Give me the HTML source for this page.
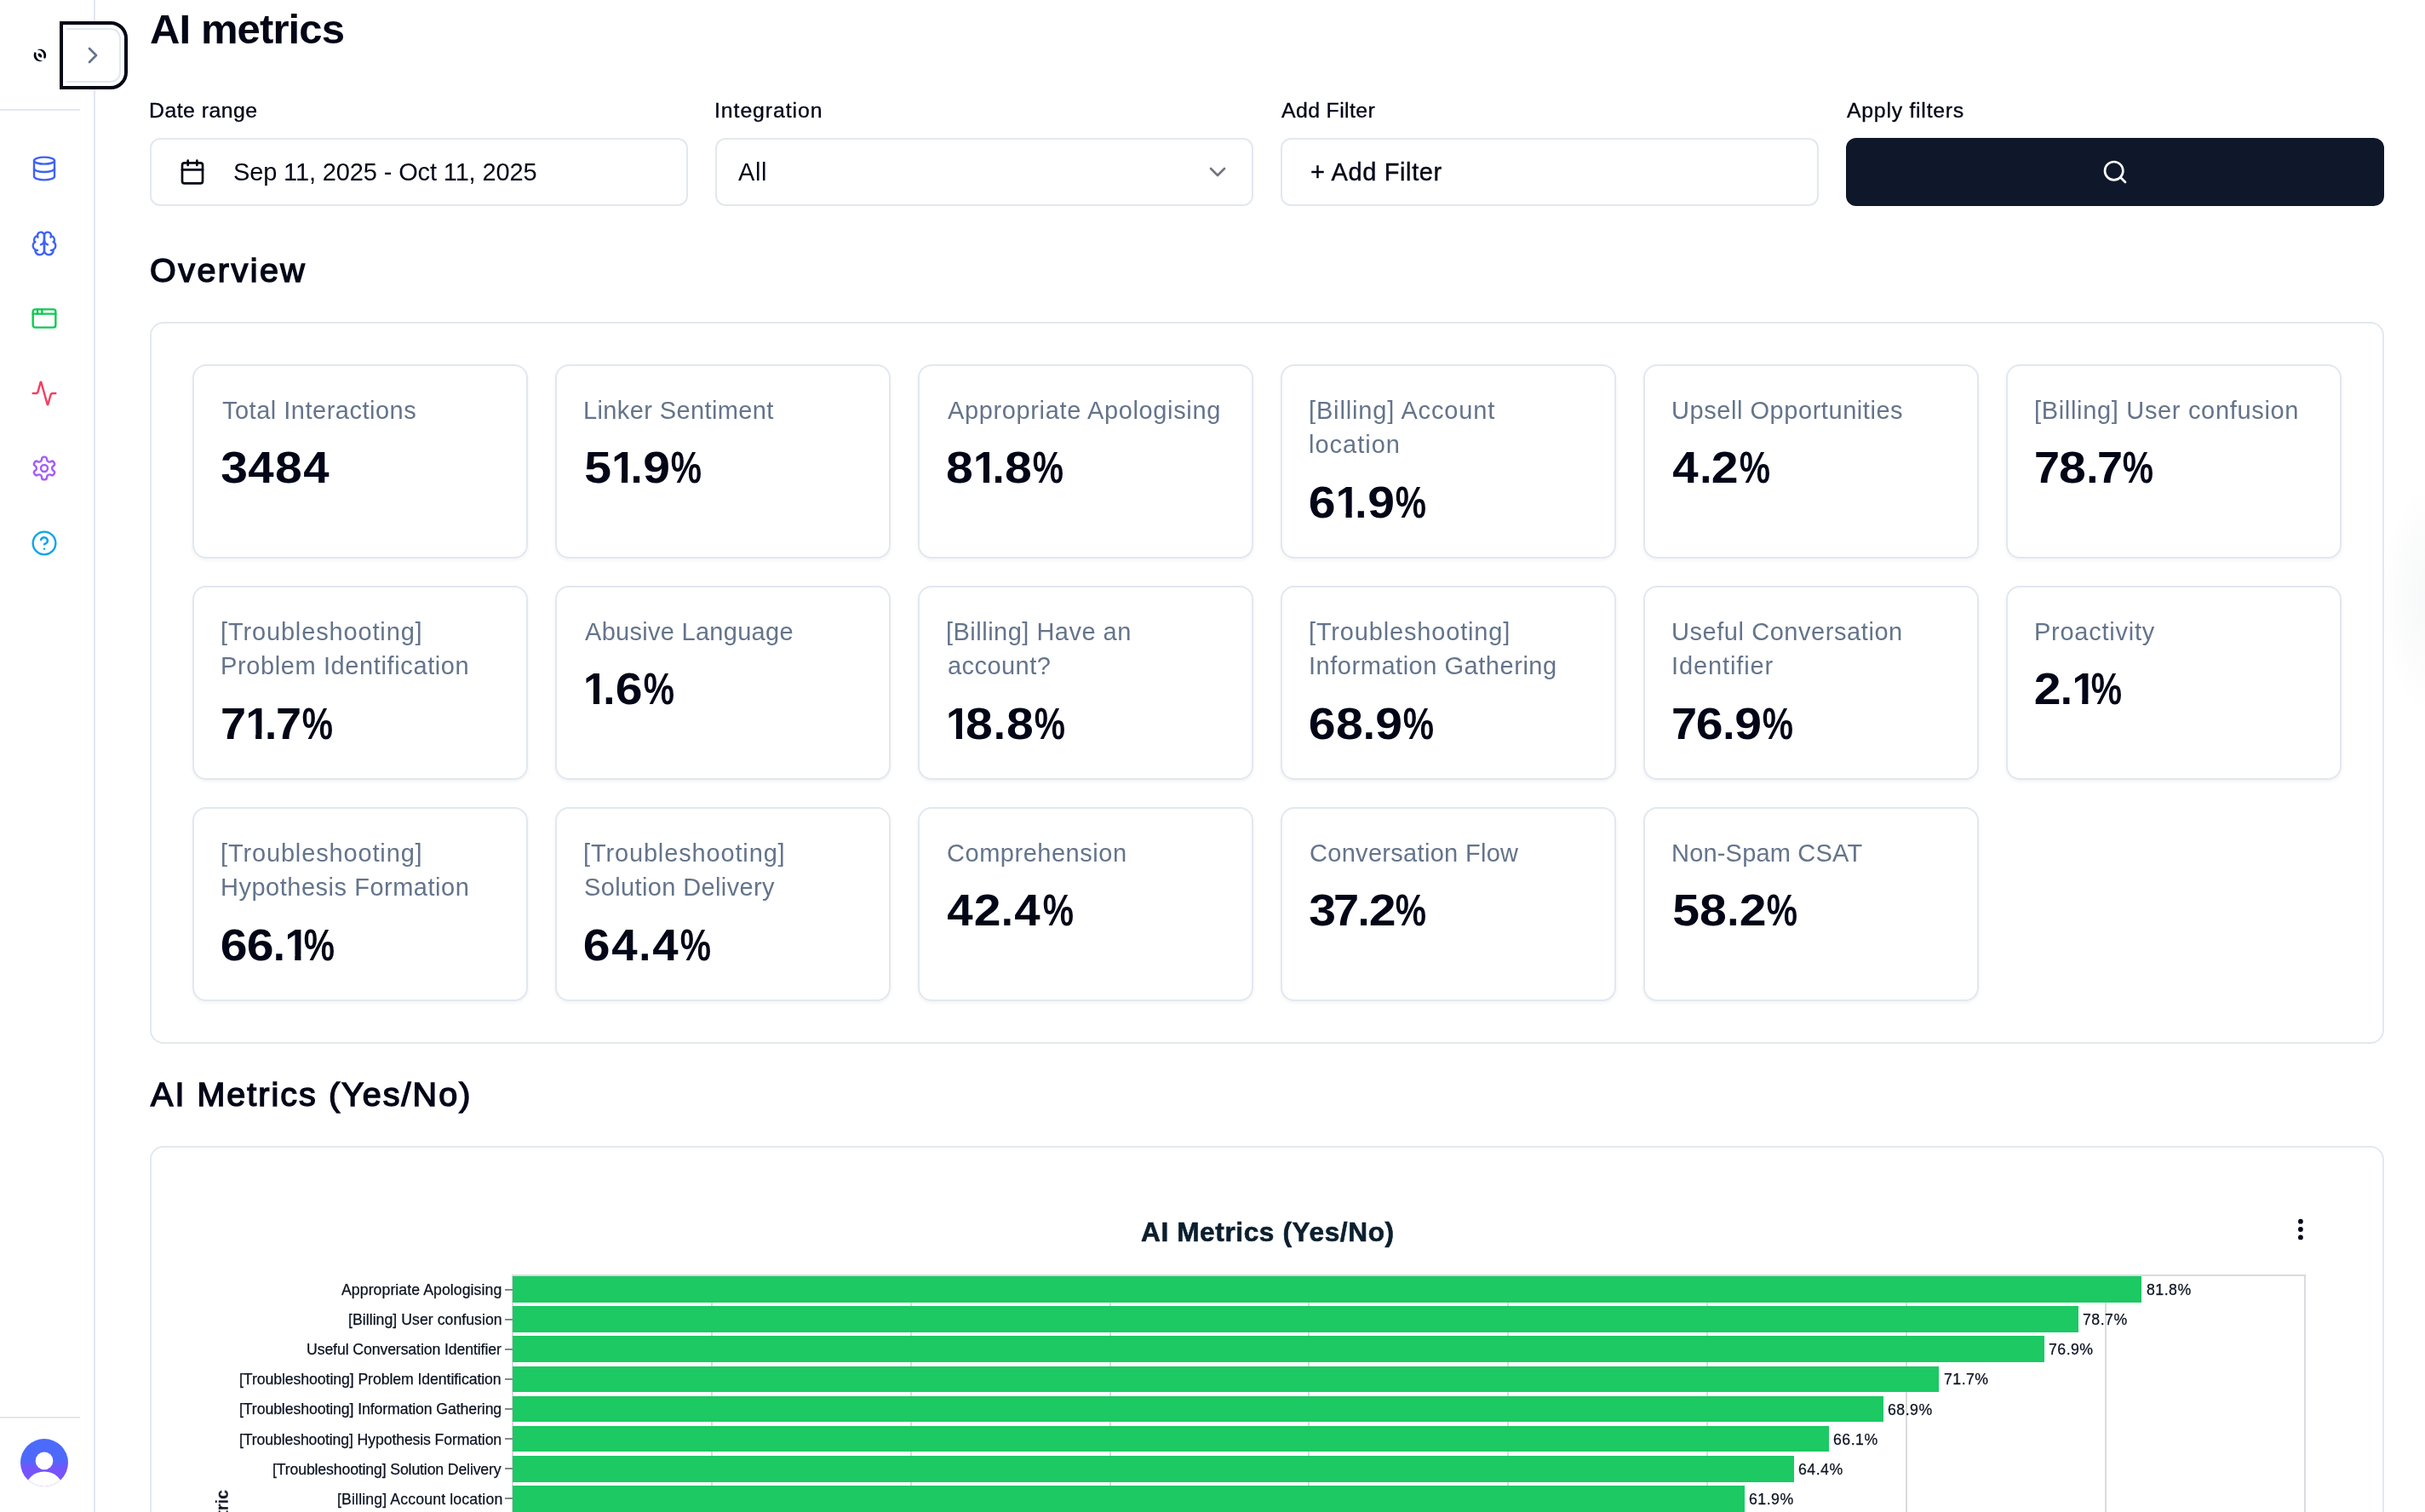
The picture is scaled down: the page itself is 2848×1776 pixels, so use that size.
<!DOCTYPE html>
<html lang="en"><head><meta charset="utf-8"><title>AI metrics</title>
<style>
*{box-sizing:border-box;margin:0;padding:0}
html,body{width:2848px;height:1776px;overflow:hidden;background:#fff}
body{position:relative;font-family:"Liberation Sans",sans-serif;color:#020617}
.t{position:absolute;white-space:nowrap;line-height:1;font-family:"Liberation Sans",sans-serif;will-change:transform}
.ic{position:absolute;display:block;overflow:visible}
.ab{position:absolute}
.ln{position:absolute;background:#e2e8f0}
.box{position:absolute;border:2px solid #e2e8f0;border-radius:12px;background:#fff}
.panel{position:absolute;border:2px solid #e2e8f0;border-radius:16px;background:#fff}
.card{position:absolute;width:394px;height:228px;border:2px solid #e2e8f0;border-radius:16px;background:#fff;box-shadow:0 2px 4px rgba(15,23,42,.05)}
.bar{position:absolute;left:602.3px;background:#1cc963}
.grid{position:absolute;width:2px;background:#d9dbde}
.tick{position:absolute;height:2px;background:#888888}

.h1{font-size:49px;font-weight:700;color:#020617;}
.flab{font-size:24.8px;font-weight:400;color:#020617;-webkit-text-stroke:0.35px #020617;}
.inp{font-size:29px;font-weight:400;color:#020617;}
.inpm{font-size:29px;font-weight:400;color:#020617;-webkit-text-stroke:0.4px #020617;}
.h2{font-size:39.5px;font-weight:400;color:#020617;-webkit-text-stroke:1.45px #020617;}
.clab{font-size:29px;font-weight:400;color:#64748b;}
.cval{font-size:51px;font-weight:700;color:#020617;}
.ctit{font-size:31.6px;font-weight:700;color:#0b1f2e;-webkit-text-stroke:0.6px #0b1f2e;}
.ylab{font-size:17.7px;font-weight:400;color:#0b1220;-webkit-text-stroke:0.25px #0b1220;}
.vlab{font-size:17.7px;font-weight:400;color:#0b1220;-webkit-text-stroke:0.25px #0b1220;}
.k{display:inline-flex;justify-content:center;margin-right:var(--m,0px)}
.k1{width:22.5px;transform:scaleX(1.000)}
.k2{width:31.2px;transform:scaleX(1.120)}
.k3{width:30.3px;transform:scaleX(1.120)}
.k4{width:33.1px;transform:scaleX(1.070)}
.k5{width:32.1px;transform:scaleX(1.120)}
.k6{width:31.4px;transform:scaleX(1.120)}
.k7{width:28.0px;transform:scaleX(1.060)}
.k8{width:32.0px;transform:scaleX(1.120)}
.k9{width:32.3px;transform:scaleX(1.120)}
.k0{width:32.0px;transform:scaleX(1.120)}
.kd{width:14.1px;transform:scaleX(1.000)}
.kp{width:38.0px;transform:scaleX(0.800)}
.k1 b{display:inline-block;font-weight:inherit;clip-path:polygon(0 0,100% 0,100% 72%,66.6% 72%,66.6% 100%,41.4% 100%,41.4% 72%,0 72%);transform:translateX(.06em)}
</style></head>
<body>
<div class="ab" style="left:2780px;top:560px;width:68px;height:290px;background:radial-gradient(ellipse 58px 135px at 74px 143px,rgba(71,85,105,.045),rgba(71,85,105,.02) 60%,rgba(71,85,105,0) 100%)"></div>
<div class="ln" style="left:110px;top:0;width:2px;height:1776px"></div>
<div class="ln" style="left:0;top:128px;width:94px;height:2px"></div>
<div class="ln" style="left:0;top:1664px;width:94px;height:2px"></div>
<svg class="ic" style="left:32px;top:50px" width="30" height="30" viewBox="32 50 30 30"><path d="M43.27 58.62 L43.72 58.38 L44.18 58.18 L44.66 58.00 L45.15 57.87 L45.64 57.76 L46.14 57.69 L46.65 57.65 L47.15 57.65 L47.66 57.69 L48.16 57.76 L48.65 57.87 L49.14 58.00 L49.62 58.18 L50.08 58.38 L50.52 58.62 L50.95 58.89 L51.36 59.19 L51.75 59.51 L52.12 59.86 L52.45 60.24 L52.77 60.64 L53.05 61.06 L53.30 61.50 L53.52 61.95 L53.71 62.42 L53.87 62.90 L53.99 63.39 L54.08 63.89 L54.13 64.39 L54.15 64.90 L54.13 65.41 L54.08 65.91 L53.99 66.41 L53.87 66.90 L53.71 67.38 L53.52 67.85 L53.30 68.30 L53.05 68.74 L52.84 69.06 L51.03 67.79 L51.11 67.53 L51.20 67.19 L51.27 66.85 L51.33 66.51 L51.36 66.18 L51.38 65.85 L51.39 65.53 L51.38 65.21 L51.36 64.90 L51.32 64.59 L51.27 64.29 L51.21 63.98 L51.13 63.69 L51.04 63.39 L50.94 63.10 L50.82 62.81 L50.69 62.53 L50.55 62.25 L50.39 61.97 L50.22 61.70 L50.03 61.43 L49.82 61.16 L49.60 60.90 L49.36 60.64 L49.10 60.39 L48.82 60.15 L48.52 59.92 L48.20 59.70 L47.85 59.49 L47.49 59.30 L47.10 59.12 L46.69 58.96 L46.26 58.83 L45.81 58.72 L45.34 58.64 L44.85 58.59 L44.34 58.57 L43.83 58.60 L43.30 58.66Z" fill="#020617"/><path d="M50.95 70.91 L50.52 71.18 L50.08 71.42 L49.62 71.62 L49.14 71.80 L48.65 71.93 L48.16 72.04 L47.66 72.11 L47.15 72.15 L46.65 72.15 L46.14 72.11 L45.64 72.04 L45.15 71.93 L44.66 71.80 L44.18 71.62 L43.72 71.42 L43.27 71.18 L42.85 70.91 L42.44 70.61 L42.05 70.29 L41.68 69.94 L41.35 69.56 L41.03 69.16 L40.75 68.74 L40.50 68.30 L40.28 67.85 L40.09 67.38 L39.93 66.90 L39.81 66.41 L39.72 65.91 L39.67 65.41 L39.65 64.90 L39.67 64.39 L39.72 63.89 L39.81 63.39 L39.93 62.90 L40.09 62.42 L40.28 61.95 L40.50 61.50 L40.75 61.06 L40.82 60.95 L42.72 62.18 L42.69 62.27 L42.60 62.61 L42.53 62.95 L42.47 63.29 L42.44 63.62 L42.42 63.95 L42.41 64.27 L42.42 64.59 L42.44 64.90 L42.48 65.21 L42.53 65.51 L42.59 65.82 L42.67 66.11 L42.76 66.41 L42.86 66.70 L42.98 66.99 L43.11 67.27 L43.25 67.55 L43.41 67.83 L43.58 68.10 L43.77 68.37 L43.98 68.64 L44.20 68.90 L44.44 69.16 L44.70 69.41 L44.98 69.65 L45.28 69.88 L45.60 70.10 L45.95 70.31 L46.31 70.50 L46.70 70.68 L47.11 70.84 L47.54 70.97 L47.99 71.08 L48.46 71.16 L48.95 71.21 L49.46 71.23 L49.97 71.20 L50.50 71.14 L50.95 70.91Z" fill="#020617"/><ellipse cx="46.9" cy="65.1" rx="2.9" ry="1.75" fill="#020617" transform="rotate(45 46.9 65.1)"/></svg>
<div class="ab" style="left:78px;top:33px;width:64px;height:64px;background:#fff;border:2px solid #e2e8f0;border-left:0;border-radius:0 12px 12px 0;box-shadow:0 0 0 4px #fff;outline:4px solid #020617;outline-offset:4px"></div>
<svg class="ic" style="left:93px;top:49px" width="32" height="32" viewBox="0 0 24 24" fill="none" stroke="#64748b" stroke-width="2" stroke-linecap="round" stroke-linejoin="round" ><path d="m9 18 6-6-6-6"/></svg>
<svg class="ic" style="left:36px;top:182px" width="32" height="32" viewBox="0 0 24 24" fill="none" stroke="#3d63f5" stroke-width="1.8" stroke-linecap="round" stroke-linejoin="round" ><ellipse cx="12" cy="5" rx="9" ry="3"/><path d="M3 5V19A9 3 0 0 0 21 19V5"/><path d="M3 12A9 3 0 0 0 21 12"/></svg>
<svg class="ic" style="left:36px;top:270px" width="32" height="32" viewBox="0 0 24 24" fill="none" stroke="#3d63f5" stroke-width="1.8" stroke-linecap="round" stroke-linejoin="round" ><path d="M12 5a3 3 0 1 0-5.997.125 4 4 0 0 0-2.526 5.77 4 4 0 0 0 .556 6.588A4 4 0 1 0 12 18Z"/><path d="M12 5a3 3 0 1 1 5.997.125 4 4 0 0 1 2.526 5.77 4 4 0 0 1-.556 6.588A4 4 0 1 1 12 18Z"/><path d="M15 13a4.500 4.500 0 0 1-3-4 4.500 4.500 0 0 1-3 4"/><path d="M17.599 6.500a3 3 0 0 0 .399-1.375"/><path d="M6.003 5.125A3 3 0 0 0 6.401 6.500"/><path d="M3.477 10.896a4 4 0 0 1 .585-.396"/><path d="M19.938 10.500a4 4 0 0 1 .585.396"/><path d="M6 18a4 4 0 0 1-1.967-.516"/><path d="M19.967 17.484A4 4 0 0 1 18 18"/></svg>
<svg class="ic" style="left:36px;top:358px" width="32" height="32" viewBox="0 0 24 24" fill="none" stroke="#12c853" stroke-width="1.8" stroke-linecap="round" stroke-linejoin="round" ><rect x="2" y="4" width="20" height="16" rx="2"/><path d="M10 4v4"/><path d="M2 8h20"/><path d="M6 4v4"/></svg>
<svg class="ic" style="left:36px;top:446px" width="32" height="32" viewBox="0 0 24 24" fill="none" stroke="#f43f5e" stroke-width="1.8" stroke-linecap="round" stroke-linejoin="round" ><path d="M22 12h-2.480a2 2 0 0 0-1.930 1.460l-2.350 8.360a.250.250 0 0 1-.480 0L9.240 2.180a.250.250 0 0 0-.480 0l-2.350 8.360A2 2 0 0 1 4.490 12H2"/></svg>
<svg class="ic" style="left:36px;top:534px" width="32" height="32" viewBox="0 0 24 24" fill="none" stroke="#a35cfa" stroke-width="1.8" stroke-linecap="round" stroke-linejoin="round" ><path d="M12.220 2h-.440a2 2 0 0 0-2 2v.180a2 2 0 0 1-1 1.730l-.430.250a2 2 0 0 1-2 0l-.150-.080a2 2 0 0 0-2.730.730l-.220.380a2 2 0 0 0 .730 2.730l.150.100a2 2 0 0 1 1 1.720v.510a2 2 0 0 1-1 1.740l-.150.090a2 2 0 0 0-.730 2.730l.220.380a2 2 0 0 0 2.730.730l.150-.080a2 2 0 0 1 2 0l.430.250a2 2 0 0 1 1 1.730V20a2 2 0 0 0 2 2h.440a2 2 0 0 0 2-2v-.180a2 2 0 0 1 1-1.730l.430-.250a2 2 0 0 1 2 0l.150.080a2 2 0 0 0 2.730-.730l.220-.390a2 2 0 0 0-.730-2.730l-.150-.080a2 2 0 0 1-1-1.740v-.500a2 2 0 0 1 1-1.740l.150-.090a2 2 0 0 0 .730-2.730l-.220-.380a2 2 0 0 0-2.730-.730l-.150.080a2 2 0 0 1-2 0l-.430-.250a2 2 0 0 1-1-1.730V4a2 2 0 0 0-2-2z"/><circle cx="12" cy="12" r="3"/></svg>
<svg class="ic" style="left:36px;top:622px" width="32" height="32" viewBox="0 0 24 24" fill="none" stroke="#0ea5e9" stroke-width="1.8" stroke-linecap="round" stroke-linejoin="round" ><circle cx="12" cy="12" r="10"/><path d="M9.090 9a3 3 0 0 1 5.830 1c0 2-3 3-3 3"/><path d="M12 17h.010"/></svg>
<svg class="ic" style="left:24px;top:1690px" width="56" height="56" viewBox="0 0 56 56"><defs><linearGradient id="ag" x1="0" y1="0" x2="0" y2="1"><stop offset="0" stop-color="#4a6cfb"/><stop offset=".45" stop-color="#4f68fb"/><stop offset=".62" stop-color="#7654fb"/><stop offset="1" stop-color="#7a52fb"/></linearGradient><clipPath id="ac"><circle cx="28" cy="28" r="28"/></clipPath></defs><g clip-path="url(#ac)"><rect width="56" height="56" fill="url(#ag)"/><circle cx="28" cy="25.9" r="10.3" fill="#fff"/><ellipse cx="28" cy="58.6" rx="22" ry="20" fill="#fff"/></g></svg>
<div class="box" style="left:176px;top:162px;width:632px;height:80px"></div>
<svg class="ic" style="left:210px;top:186px" width="32" height="32" viewBox="0 0 24 24" fill="none" stroke="#020617" stroke-width="2" stroke-linecap="round" stroke-linejoin="round" ><path d="M8 2v4"/><path d="M16 2v4"/><rect width="18" height="18" x="3" y="4" rx="2"/><path d="M3 10h18"/></svg>
<div class="box" style="left:840px;top:162px;width:632px;height:80px"></div>
<svg class="ic" style="left:1414px;top:186px" width="32" height="32" viewBox="0 0 24 24" fill="none" stroke="#020617" stroke-width="2" stroke-linecap="round" stroke-linejoin="round" opacity=".55"><path d="m6 9 6 6 6-6"/></svg>
<div class="box" style="left:1504px;top:162px;width:632px;height:80px"></div>
<div class="ab" style="left:2168px;top:162px;width:632px;height:80px;border-radius:12px;background:#0f172a"></div>
<svg class="ic" style="left:2468px;top:186px" width="32" height="32" viewBox="0 0 24 24" fill="none" stroke="#ffffff" stroke-width="2" stroke-linecap="round" stroke-linejoin="round" ><circle cx="11" cy="11" r="8"/><path d="m21 21-4.300-4.300"/></svg>
<div class="panel" style="left:176px;top:378px;width:2624px;height:848px"></div>
<div class="card" style="left:226px;top:428px"></div>
<div class="card" style="left:652px;top:428px"></div>
<div class="card" style="left:1078px;top:428px"></div>
<div class="card" style="left:1504px;top:428px"></div>
<div class="card" style="left:1930px;top:428px"></div>
<div class="card" style="left:2356px;top:428px"></div>
<div class="card" style="left:226px;top:688px"></div>
<div class="card" style="left:652px;top:688px"></div>
<div class="card" style="left:1078px;top:688px"></div>
<div class="card" style="left:1504px;top:688px"></div>
<div class="card" style="left:1930px;top:688px"></div>
<div class="card" style="left:2356px;top:688px"></div>
<div class="card" style="left:226px;top:948px"></div>
<div class="card" style="left:652px;top:948px"></div>
<div class="card" style="left:1078px;top:948px"></div>
<div class="card" style="left:1504px;top:948px"></div>
<div class="card" style="left:1930px;top:948px"></div>
<div class="panel" style="left:176px;top:1346px;width:2624px;height:600px"></div>
<svg class="ic" style="left:2690px;top:1424px" width="24" height="40" viewBox="2690 1424 24 40"><circle cx="2701.9" cy="1434.7" r="2.9" fill="#020617"/><circle cx="2701.9" cy="1444" r="2.9" fill="#020617"/><circle cx="2701.9" cy="1453.4" r="2.9" fill="#020617"/></svg>
<div class="grid" style="left:600.8px;top:1496.5px;height:300px"></div>
<div class="grid" style="left:834.7px;top:1496.5px;height:300px"></div>
<div class="grid" style="left:1068.6px;top:1496.5px;height:300px"></div>
<div class="grid" style="left:1302.5px;top:1496.5px;height:300px"></div>
<div class="grid" style="left:1536.4px;top:1496.5px;height:300px"></div>
<div class="grid" style="left:1770.3px;top:1496.5px;height:300px"></div>
<div class="grid" style="left:2004.2px;top:1496.5px;height:300px"></div>
<div class="grid" style="left:2238.1px;top:1496.5px;height:300px"></div>
<div class="grid" style="left:2472.0px;top:1496.5px;height:300px"></div>
<div class="grid" style="left:2705.9px;top:1496.5px;height:300px"></div>
<div class="ab" style="left:601.3px;top:1496.5px;width:2107.0px;height:2px;background:#d9dbde"></div>
<div class="bar" style="top:1499.20px;width:1912.9px;height:30.6px"></div>
<div class="tick" style="left:593.3px;width:9px;top:1513.50px"></div>
<div class="bar" style="top:1534.34px;width:1839.0px;height:30.6px"></div>
<div class="tick" style="left:593.3px;width:9px;top:1548.64px"></div>
<div class="bar" style="top:1569.48px;width:1798.3px;height:30.6px"></div>
<div class="tick" style="left:593.3px;width:9px;top:1583.78px"></div>
<div class="bar" style="top:1604.62px;width:1675.0px;height:30.6px"></div>
<div class="tick" style="left:593.3px;width:9px;top:1618.92px"></div>
<div class="bar" style="top:1639.76px;width:1609.4px;height:30.6px"></div>
<div class="tick" style="left:593.3px;width:9px;top:1654.06px"></div>
<div class="bar" style="top:1674.90px;width:1545.5px;height:30.6px"></div>
<div class="tick" style="left:593.3px;width:9px;top:1689.20px"></div>
<div class="bar" style="top:1710.04px;width:1504.4px;height:30.6px"></div>
<div class="tick" style="left:593.3px;width:9px;top:1724.34px"></div>
<div class="bar" style="top:1745.18px;width:1447.1px;height:30.6px"></div>
<div class="tick" style="left:593.3px;width:9px;top:1759.48px"></div>
<span id="ytitle" class="t" style="left:252.4px;top:1749.6px;font-size:19.8px;font-weight:700;color:#020617;writing-mode:vertical-rl;transform:rotate(180deg);line-height:1">Metric</span>
<span id="h1" class="t h1" style="left:175.79px;top:9.52px;letter-spacing:-0.895px">AI metrics</span>
<span id="fl1" class="t flab" style="left:174.92px;top:117.76px;letter-spacing:0.484px">Date range</span>
<span id="fl2" class="t flab" style="left:838.51px;top:117.76px;letter-spacing:0.936px">Integration</span>
<span id="fl3" class="t flab" style="left:1504.80px;top:117.76px;letter-spacing:0.398px">Add Filter</span>
<span id="fl4" class="t flab" style="left:2168.68px;top:117.76px;letter-spacing:0.756px">Apply filters</span>
<span id="in1" class="t inp" style="left:273.84px;top:188.45px;letter-spacing:-0.134px">Sep 11, 2025 - Oct 11, 2025</span>
<span id="in2" class="t inp" style="left:866.73px;top:188.45px;letter-spacing:0.598px">All</span>
<span id="in3" class="t inpm" style="left:1538.71px;top:188.45px;letter-spacing:0.610px">+ Add Filter</span>
<span id="ov" class="t h2" style="left:175.79px;top:298.06px;letter-spacing:2.464px">Overview</span>
<span id="h2b" class="t h2" style="left:177.12px;top:1266.26px;letter-spacing:2.032px">AI Metrics (Yes/No)</span>
<span id="ctit" class="t ctit" style="left:1339.57px;top:1431.85px;letter-spacing:0.605px">AI Metrics (Yes/No)</span>
<span id="c00l0" class="t clab" style="left:260.66px;top:467.85px;letter-spacing:0.496px">Total Interactions</span>
<span id="c00v" class="t cval" style="left:260.40px;top:524.48px;--m:-0.083px"><span class="k k3">3</span><span class="k k4">4</span><span class="k k8">8</span><span class="k k4">4</span></span>
<span id="c01l0" class="t clab" style="left:684.73px;top:467.85px;letter-spacing:0.381px">Linker Sentiment</span>
<span id="c01v" class="t cval" style="left:685.75px;top:524.48px;--m:-0.020px"><span class="k k5">5</span><span class="k k1"><b>1</b></span><span class="k kd">.</span><span class="k k9">9</span><span class="k kp">%</span></span>
<span id="c02l0" class="t clab" style="left:1112.71px;top:467.85px;letter-spacing:0.634px">Appropriate Apologising</span>
<span id="c02v" class="t cval" style="left:1111.30px;top:524.48px;--m:-0.012px"><span class="k k8">8</span><span class="k k1"><b>1</b></span><span class="k kd">.</span><span class="k k8">8</span><span class="k kp">%</span></span>
<span id="c03l0" class="t clab" style="left:1537.30px;top:467.85px;letter-spacing:0.845px">[Billing] Account</span>
<span id="c03l1" class="t clab" style="left:1537.39px;top:507.85px;letter-spacing:0.996px">location</span>
<span id="c03v" class="t cval" style="left:1537.40px;top:564.58px;--m:0.263px"><span class="k k6">6</span><span class="k k1"><b>1</b></span><span class="k kd">.</span><span class="k k9">9</span><span class="k kp">%</span></span>
<span id="c04l0" class="t clab" style="left:1963.10px;top:467.85px;letter-spacing:0.552px">Upsell Opportunities</span>
<span id="c04v" class="t cval" style="left:1963.48px;top:524.48px;--m:0.126px"><span class="k k4">4</span><span class="k kd">.</span><span class="k k2">2</span><span class="k kp">%</span></span>
<span id="c05l0" class="t clab" style="left:2389.30px;top:467.85px;letter-spacing:0.672px">[Billing] User confusion</span>
<span id="c05v" class="t cval" style="left:2390.07px;top:524.48px;--m:0.088px"><span class="k k7">7</span><span class="k k8">8</span><span class="k kd">.</span><span class="k k7">7</span><span class="k kp">%</span></span>
<span id="c10l0" class="t clab" style="left:259.30px;top:727.85px;letter-spacing:0.854px">[Troubleshooting]</span>
<span id="c10l1" class="t clab" style="left:258.73px;top:767.85px;letter-spacing:0.613px">Problem Identification</span>
<span id="c10v" class="t cval" style="left:260.07px;top:824.58px;--m:0.288px"><span class="k k7">7</span><span class="k k1"><b>1</b></span><span class="k kd">.</span><span class="k k7">7</span><span class="k kp">%</span></span>
<span id="c11l0" class="t clab" style="left:686.71px;top:727.85px;letter-spacing:0.287px">Abusive Language</span>
<span id="c11v" class="t cval" style="left:684.83px;top:784.48px;--m:0.678px"><span class="k k1"><b>1</b></span><span class="k kd">.</span><span class="k k6">6</span><span class="k kp">%</span></span>
<span id="c12l0" class="t clab" style="left:1111.30px;top:727.85px;letter-spacing:0.485px">[Billing] Have an</span>
<span id="c12l1" class="t clab" style="left:1112.52px;top:767.85px;letter-spacing:0.440px">account?</span>
<span id="c12v" class="t cval" style="left:1110.83px;top:824.58px;--m:0.696px"><span class="k k1"><b>1</b></span><span class="k k8">8</span><span class="k kd">.</span><span class="k k8">8</span><span class="k kp">%</span></span>
<span id="c13l0" class="t clab" style="left:1537.30px;top:727.85px;letter-spacing:0.832px">[Troubleshooting]</span>
<span id="c13l1" class="t clab" style="left:1536.64px;top:767.85px;letter-spacing:0.533px">Information Gathering</span>
<span id="c13v" class="t cval" style="left:1537.40px;top:824.58px;--m:0.163px"><span class="k k6">6</span><span class="k k8">8</span><span class="k kd">.</span><span class="k k9">9</span><span class="k kp">%</span></span>
<span id="c14l0" class="t clab" style="left:1963.10px;top:727.85px;letter-spacing:0.560px">Useful Conversation</span>
<span id="c14l1" class="t clab" style="left:1962.64px;top:767.85px;letter-spacing:0.888px">Identifier</span>
<span id="c14v" class="t cval" style="left:1964.07px;top:824.58px;--m:-0.112px"><span class="k k7">7</span><span class="k k6">6</span><span class="k kd">.</span><span class="k k9">9</span><span class="k kp">%</span></span>
<span id="c15l0" class="t clab" style="left:2388.73px;top:727.85px;letter-spacing:0.744px">Proactivity</span>
<span id="c15v" class="t cval" style="left:2389.25px;top:784.48px;--m:-0.459px"><span class="k k2">2</span><span class="k kd">.</span><span class="k k1"><b>1</b></span><span class="k kp">%</span></span>
<span id="c20l0" class="t clab" style="left:259.30px;top:987.85px;letter-spacing:0.854px">[Troubleshooting]</span>
<span id="c20l1" class="t clab" style="left:258.73px;top:1027.85px;letter-spacing:0.513px">Hypothesis Formation</span>
<span id="c20v" class="t cval" style="left:259.40px;top:1084.58px;--m:-0.487px"><span class="k k6">6</span><span class="k k6">6</span><span class="k kd">.</span><span class="k k1"><b>1</b></span><span class="k kp">%</span></span>
<span id="c21l0" class="t clab" style="left:685.30px;top:987.85px;letter-spacing:0.854px">[Troubleshooting]</span>
<span id="c21l1" class="t clab" style="left:686.17px;top:1027.85px;letter-spacing:0.373px">Solution Delivery</span>
<span id="c21v" class="t cval" style="left:685.40px;top:1084.58px;--m:0.363px"><span class="k k6">6</span><span class="k k4">4</span><span class="k kd">.</span><span class="k k4">4</span><span class="k kp">%</span></span>
<span id="c22l0" class="t clab" style="left:1112.20px;top:987.85px;letter-spacing:0.527px">Comprehension</span>
<span id="c22v" class="t cval" style="left:1111.48px;top:1044.48px;--m:0.293px"><span class="k k4">4</span><span class="k k2">2</span><span class="k kd">.</span><span class="k k4">4</span><span class="k kp">%</span></span>
<span id="c23l0" class="t clab" style="left:1538.20px;top:987.85px;letter-spacing:0.305px">Conversation Flow</span>
<span id="c23v" class="t cval" style="left:1538.40px;top:1044.48px;--m:-0.837px"><span class="k k3">3</span><span class="k k7">7</span><span class="k kd">.</span><span class="k k2">2</span><span class="k kp">%</span></span>
<span id="c24l0" class="t clab" style="left:1962.73px;top:987.85px;letter-spacing:0.186px">Non-Spam CSAT</span>
<span id="c24v" class="t cval" style="left:1963.75px;top:1044.48px;--m:0.130px"><span class="k k5">5</span><span class="k k8">8</span><span class="k kd">.</span><span class="k k2">2</span><span class="k kp">%</span></span>
<span id="yl0" class="t ylab" style="right:2258.50px;top:1506.92px;letter-spacing:0.064px">Appropriate Apologising</span>
<span id="vl0" class="t vlab" style="left:2520.86px;top:1507.02px;letter-spacing:0.488px">81.8%</span>
<span id="yl1" class="t ylab" style="right:2258.43px;top:1542.06px;letter-spacing:0.032px">[Billing] User confusion</span>
<span id="vl1" class="t vlab" style="left:2446.13px;top:1542.16px;letter-spacing:0.499px">78.7%</span>
<span id="yl2" class="t ylab" style="right:2259.67px;top:1577.20px;letter-spacing:-0.110px">Useful Conversation Identifier</span>
<span id="vl2" class="t vlab" style="left:2406.21px;top:1577.30px;letter-spacing:0.483px">76.9%</span>
<span id="yl3" class="t ylab" style="right:2259.09px;top:1612.34px;letter-spacing:-0.085px">[Troubleshooting] Problem Identification</span>
<span id="vl3" class="t vlab" style="left:2282.77px;top:1612.44px;letter-spacing:0.487px">71.7%</span>
<span id="yl4" class="t ylab" style="right:2258.41px;top:1647.48px;letter-spacing:-0.100px">[Troubleshooting] Information Gathering</span>
<span id="vl4" class="t vlab" style="left:2217.07px;top:1647.58px;letter-spacing:0.502px">68.9%</span>
<span id="yl5" class="t ylab" style="right:2259.32px;top:1682.62px;letter-spacing:-0.129px">[Troubleshooting] Hypothesis Formation</span>
<span id="vl5" class="t vlab" style="left:2152.91px;top:1682.72px;letter-spacing:0.500px">66.1%</span>
<span id="yl6" class="t ylab" style="right:2259.96px;top:1717.76px;letter-spacing:-0.147px">[Troubleshooting] Solution Delivery</span>
<span id="vl6" class="t vlab" style="left:2112.35px;top:1717.86px;letter-spacing:0.490px">64.4%</span>
<span id="yl7" class="t ylab" style="right:2258.06px;top:1752.90px;letter-spacing:0.139px">[Billing] Account location</span>
<span id="vl7" class="t vlab" style="left:2054.36px;top:1753.00px;letter-spacing:0.504px">61.9%</span>
</body></html>
